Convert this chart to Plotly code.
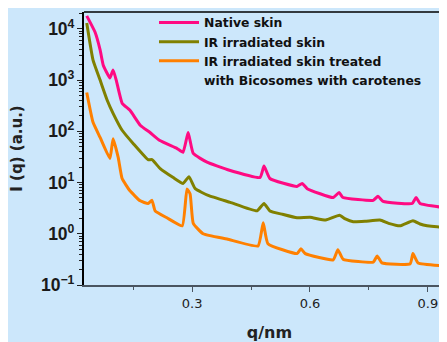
import plotly.graph_objects as go

# ---- data ----
q_native = [0.032, 0.053, 0.066, 0.074, 0.091, 0.099, 0.107, 0.122, 0.142, 0.168, 0.193, 0.218,
            0.262, 0.277, 0.290, 0.303, 0.338, 0.389, 0.473, 0.483, 0.498, 0.567, 0.580, 0.593,
            0.659, 0.674, 0.684, 0.761, 0.773, 0.786, 0.860, 0.870, 0.880, 0.949, 0.970]
i_native = [18000, 8700, 3900, 1960, 1100, 1580, 1000, 355, 257, 132, 95, 66,
            46, 39, 95, 37, 25, 18, 12.6, 21, 12, 8.4, 9.6, 7.6,
            5.1, 6.4, 5.1, 4.5, 5.4, 4.3, 3.9, 5.1, 3.9, 3.2, 3.1]

q_ir = [0.032, 0.048, 0.066, 0.084, 0.099, 0.122, 0.150, 0.188, 0.198, 0.219, 0.252, 0.277,
        0.292, 0.308, 0.341, 0.397, 0.465, 0.483, 0.498, 0.530, 0.567, 0.600, 0.640, 0.675,
        0.690, 0.710, 0.740, 0.778, 0.800, 0.829, 0.862, 0.880, 0.898, 0.930, 0.949, 0.970]
i_ir = [13000, 2450, 1000, 405, 225, 105, 58, 28, 28, 18.7, 12.5, 9.6,
        13, 7.6, 5.6, 4.1, 2.8, 3.9, 2.8, 2.4, 2.05, 2.1, 1.85, 2.3,
        1.95, 1.72, 1.75, 1.85, 1.6, 1.43, 1.8, 1.55, 1.43, 1.35, 1.26, 1.3]

q_treated = [0.032, 0.048, 0.066, 0.091, 0.099, 0.112, 0.122, 0.142, 0.168, 0.188, 0.198, 0.206,
             0.236, 0.275, 0.287, 0.295, 0.303, 0.328, 0.389, 0.468, 0.481, 0.493, 0.567, 0.577,
             0.588, 0.659, 0.671, 0.684, 0.761, 0.771, 0.783, 0.855, 0.862, 0.875, 0.949, 0.970]
i_treated = [575, 150, 76, 29.5, 72, 31, 12, 6.9, 4.4, 3.9, 4.5, 2.8,
             2.05, 1.43, 7.5, 6.0, 1.6, 1.0, 0.79, 0.58, 1.64, 0.64, 0.41, 0.51,
             0.41, 0.31, 0.49, 0.32, 0.28, 0.37, 0.27, 0.26, 0.41, 0.27, 0.235, 0.23]

series_names = ["Native skin", "IR irradiated skin", "IR irradiated skin treated"]
legend_extra_line = "with Bicosomes with carotenes"
series_colors = ["#FF0A82", "#808000", "#FF8000"]

x_tick_vals = [0.3, 0.6, 0.9]
x_tick_text = ["0.3", "0.6", "0.9"]

BG = "#CCE7FB"
FONT = "DejaVu Sans"
NARROW = "Liberation Sans Narrow, Liberation Sans, Arial"

fig = go.Figure()
for q, i, name, col in zip([q_native, q_ir, q_treated], [i_native, i_ir, i_treated],
                           series_names, series_colors):
    fig.add_trace(go.Scatter(x=q, y=i, mode="lines", name=name,
                             line=dict(color=col, width=3, shape="spline", smoothing=0.4)))
# second line of the third legend label
fig.add_trace(go.Scatter(x=[None], y=[None], mode="lines", name=legend_extra_line,
                         line=dict(color="rgba(0,0,0,0)", width=3), hoverinfo="skip"))

fig.update_layout(
    width=447, height=342,
    paper_bgcolor=BG, plot_bgcolor=BG,
    margin=dict(l=76, r=0, t=4, b=65),
    font=dict(family=FONT, color="#222222", size=13),
    showlegend=True,
    legend=dict(x=0.1887, y=1.0147, xanchor="left", yanchor="top",
                bgcolor="rgba(0,0,0,0)",
                font=dict(family=FONT, size=12.4, color="#111111", weight="bold"),
                tracegroupgap=0, itemwidth=40),
    shapes=[dict(type="line", xref="paper", yref="paper", x0=0, x1=1, y0=1, y1=1,
                 line=dict(color="#000000", width=1.5))],
)

fig.update_xaxes(
    range=[0.025, 0.969], tickmode="array", tickvals=x_tick_vals, ticktext=x_tick_text,
    ticks="outside", ticklen=5, tickcolor="#4A5560", tickwidth=1,
    minor=dict(ticks="outside", ticklen=3, dtick=0.15, tick0=0, tickcolor="#4A5560", showgrid=False),
    showline=True, linecolor="#4A5560", linewidth=2,
    showgrid=False, zeroline=False,
    tickfont=dict(family=FONT, size=13, color="#222222"),
    title=dict(text="<b>q/nm</b>", font=dict(family=FONT, size=16, color="#222222"), standoff=17),
)

fig.update_yaxes(
    type="log", range=[-1, 4.33], dtick=1, exponentformat="power",
    labelalias={"1": "10<sup>0</sup>", "10": "10<sup>1</sup>"},
    ticks="outside", ticklen=5, tickcolor="#222222", tickwidth=1,
    minor=dict(ticks="outside", ticklen=3, dtick="D1", tickcolor="#222222", showgrid=False),
    showline=True, linecolor="#000000", linewidth=1.5,
    showgrid=False, zeroline=False,
    tickfont=dict(family=NARROW, size=14, color="#1a1a1a", weight="bold"),
    title=dict(text="<b>I (q) (a.u.)</b>", font=dict(family=FONT, size=15, color="#222222"), standoff=16),
)

fig.write_html("out.html")
